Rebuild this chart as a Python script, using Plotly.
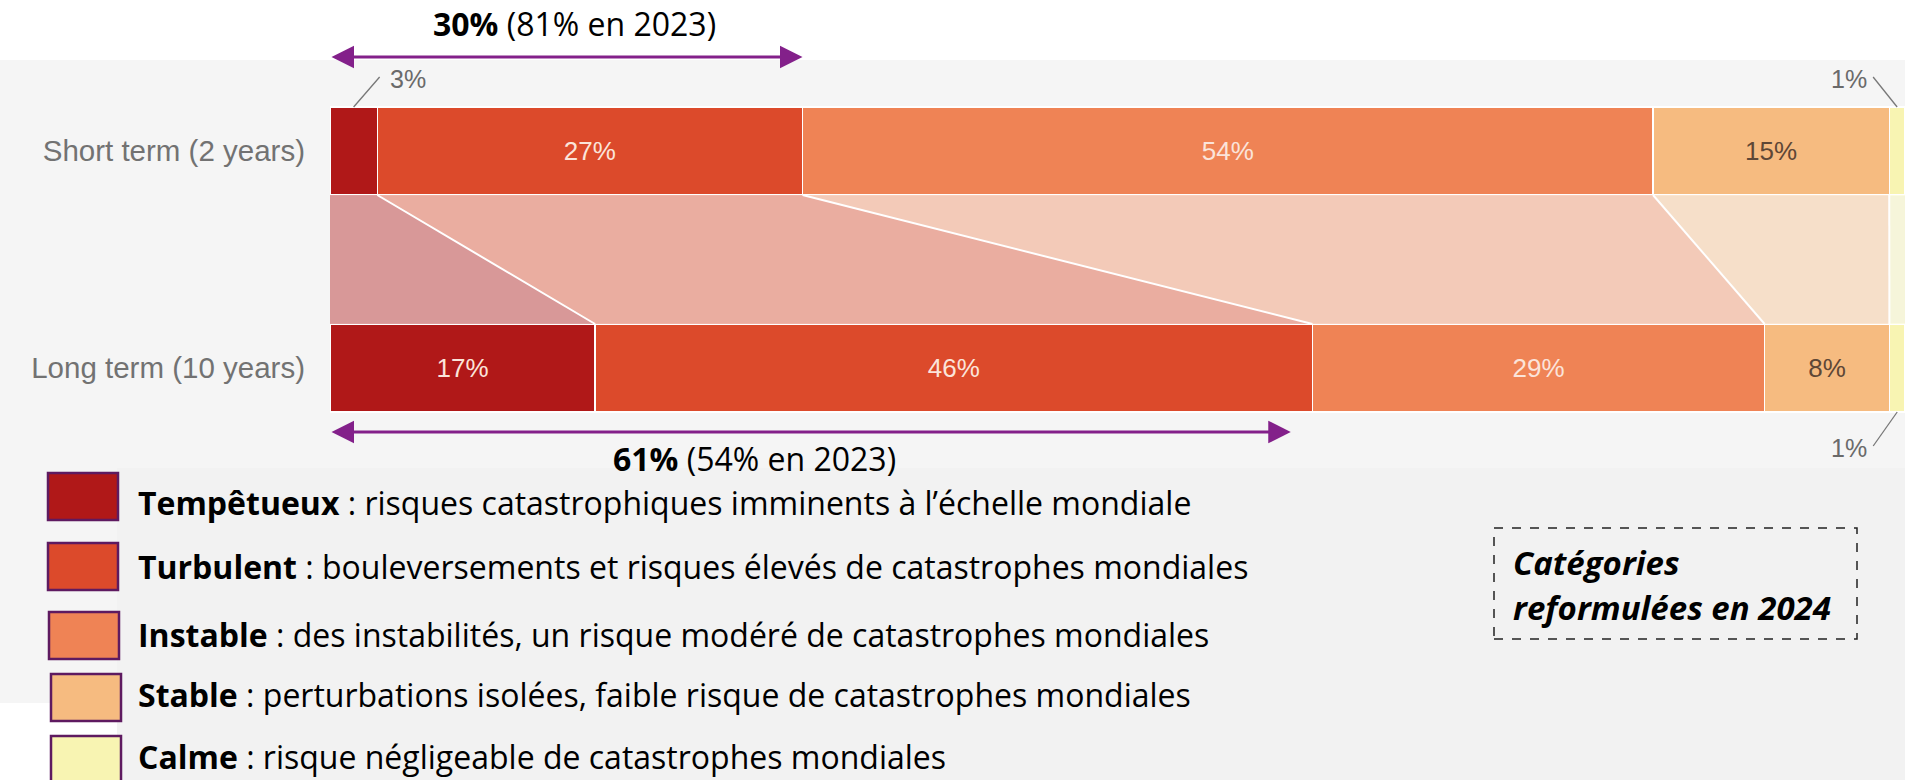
import plotly.graph_objects as go

# data
horizons = ["Short term (2 years)", "Long term (10 years)"]
categories = ["Tempêtueux", "Turbulent", "Instable", "Stable", "Calme"]
descriptions = [
    "risques catastrophiques imminents à l’échelle mondiale",
    "bouleversements et risques élevés de catastrophes mondiales",
    "des instabilités, un risque modéré de catastrophes mondiales",
    "perturbations isolées, faible risque de catastrophes mondiales",
    "risque négligeable de catastrophes mondiales",
]
short_term = [3, 27, 54, 15, 1]
long_term = [17, 46, 29, 8, 1]
top_two_2024 = [30, 61]
top_two_2023 = [81, 54]

# styles
bar_colors = ["#b01818", "#dc4a2b", "#ef8355", "#f6bb80", "#f8f4b2"]
band_colors = ["rgba(176,24,24,0.42)", "rgba(220,74,43,0.42)", "rgba(239,131,85,0.38)",
               "rgba(246,187,128,0.38)", "rgba(248,244,178,0.4)"]
text_colors = ["#fbe4da", "#fbe4da", "#fbe4da", "#5e4736", "#5e4736"]
purple = "#83208a"
W, H = 1905, 780
UNIT = 217          # px between the two bar centres
TOP = 151           # px of first bar centre
BW = 88 / UNIT      # bar thickness in axis units


def py(p):
    # pixel row -> y axis value
    return (p - TOP) / UNIT


fig = go.Figure()

# flows between the two bars
s_cum = [0]
l_cum = [0]
for a, b in zip(short_term, long_term):
    s_cum.append(s_cum[-1] + a * 100 / sum(short_term))
    l_cum.append(l_cum[-1] + b * 100 / sum(long_term))
yt, yb = BW / 2, 1 - BW / 2
for i, cat in enumerate(categories):
    fig.add_trace(go.Scatter(
        x=[s_cum[i], s_cum[i + 1], l_cum[i + 1], l_cum[i], s_cum[i]],
        y=[yt, yt, yb, yb, yt], fill="toself", fillcolor=band_colors[i],
        mode="lines", line=dict(width=0), hoverinfo="skip", showlegend=False))
lx, ly = [], []
for k in range(1, len(categories)):
    lx += [s_cum[k], l_cum[k], None]
    ly += [yt, yb, None]
fig.add_trace(go.Scatter(x=lx, y=ly, mode="lines", line=dict(color="white", width=2),
                         hoverinfo="skip", showlegend=False))

# stacked bars
for i, cat in enumerate(categories):
    vals = [short_term[i], long_term[i]]
    fig.add_trace(go.Bar(
        y=[0, 1], x=vals, orientation="h", name=cat, width=BW,
        marker=dict(color=bar_colors[i], line=dict(color="white", width=1.5)),
        text=[f"{v}%" if v >= 5 else "" for v in vals],
        textposition="inside", insidetextanchor="middle", constraintext="none",
        textfont=dict(family="Liberation Sans, Arial, sans-serif", size=26, color=text_colors[i]),
        showlegend=False))

annotations = []
shapes = []

# double-headed arrows with totals of the two worst categories
for row, ypix, tpix, dx in [(0, 57, 23, 8), (1, 432, 458, -56)]:
    y_arrow = py(ypix)
    annotations.append(dict(
        x=top_two_2024[row], y=y_arrow, ax=0, ay=y_arrow, xref="x", yref="y",
        axref="x", ayref="y", showarrow=True, arrowhead=2, arrowside="end+start",
        arrowsize=1.5, arrowwidth=3, arrowcolor=purple, text=""))
    annotations.append(dict(
        x=top_two_2024[row] / 2, y=py(tpix), xref="x", yref="y", xshift=dx,
        showarrow=False,
        text=f"<b>{top_two_2024[row]}%</b> ({top_two_2023[row]}% en 2023)",
        font=dict(family="Open Sans, sans-serif", size=32, color="black")))

# small segment call-outs
small = [(0, 0, 26, 30, "left"), (0, 4, -24, 30, "right"), (1, 4, -24, -34, "right")]
lab_font = dict(family="Liberation Sans, Arial, sans-serif", size=25, color="#6a6a6a")
for row, ci, dxp, dyp, anc in small:
    cum = s_cum if row == 0 else l_cum
    vals = short_term if row == 0 else long_term
    xc = (cum[ci] + cum[ci + 1]) / 2
    yedge = row - BW / 2 if row == 0 else row + BW / 2
    shapes.append(dict(type="line", xref="x", yref="y", xsizemode="pixel", ysizemode="pixel",
                       xanchor=xc, yanchor=yedge, x0=0, y0=0, x1=dxp, y1=dyp,
                       line=dict(color="#777777", width=1.3)))
    annotations.append(dict(
        x=xc, y=yedge, xref="x", yref="y", xanchor=anc, yanchor="middle",
        xshift=dxp + (8 if anc == "left" else -4), yshift=dyp - 2,
        showarrow=False, text=f"{vals[ci]}%", font=lab_font))

# backgrounds
shapes.insert(0, dict(type="rect", xref="paper", yref="paper", x0=0, x1=1,
                      y0=1 - 703 / H, y1=1 - 60 / H, fillcolor="#f5f5f5",
                      line=dict(width=0), layer="below"))
shapes.insert(1, dict(type="rect", xref="paper", yref="paper", x0=117 / W, x1=1,
                      y0=0, y1=1 - 468 / H, fillcolor="#f2f2f2",
                      line=dict(width=0), layer="below"))

# legend squares + descriptions
sq_rows = [(48, 473), (48, 543), (49, 612), (51, 674), (51, 736)]
text_rows = [502, 566, 634, 694, 756]
for i, cat in enumerate(categories):
    x0, y0 = sq_rows[i]
    shapes.append(dict(type="rect", xref="paper", yref="paper",
                       x0=x0 / W, x1=(x0 + 70) / W, y0=1 - (y0 + 47) / H, y1=1 - y0 / H,
                       fillcolor=bar_colors[i], line=dict(color="#5e1a60", width=2.5)))
    annotations.append(dict(
        x=136 / W, y=1 - text_rows[i] / H, xref="paper", yref="paper",
        xanchor="left", yanchor="middle", showarrow=False,
        text=f"<b>{cat}</b> : {descriptions[i]}",
        font=dict(family="Open Sans, sans-serif", size=32, color="black")))

# dashed note box
shapes.append(dict(type="rect", xref="paper", yref="paper", x0=1494 / W, x1=1857 / W,
                   y0=1 - 639 / H, y1=1 - 528 / H, line=dict(color="#222222", width=1.5, dash="dash")))
for txt, yp in [("Catégories", 562), ("reformulées en 2024", 607)]:
    annotations.append(dict(
        x=1511 / W, y=1 - yp / H, xref="paper", yref="paper", xanchor="left",
        yanchor="middle", showarrow=False, text=f"<b><i>{txt}</i></b>",
        font=dict(family="Open Sans, sans-serif", size=33, color="black")))

fig.update_layout(
    width=W, height=H, barmode="stack", barnorm="percent",
    margin=dict(l=0, r=0, t=0, b=0),
    paper_bgcolor="white", plot_bgcolor="rgba(0,0,0,0)",
    shapes=shapes, annotations=annotations, showlegend=False,
    xaxis=dict(domain=[330 / W, 1], range=[0, 100], visible=False, fixedrange=True),
    yaxis=dict(domain=[0, 1], range=[py(H), py(0)], tickvals=[0, 1], ticktext=horizons,
               showgrid=False, zeroline=False, showline=False, ticks="",
               ticklabelstandoff=24, automargin=False, fixedrange=True,
               tickfont=dict(family="Liberation Sans, Arial, sans-serif", size=29.5, color="#727272")),
)

fig.write_html("out.html", config={"displayModeBar": False},
               post_script="document.body.style.margin='0';")
